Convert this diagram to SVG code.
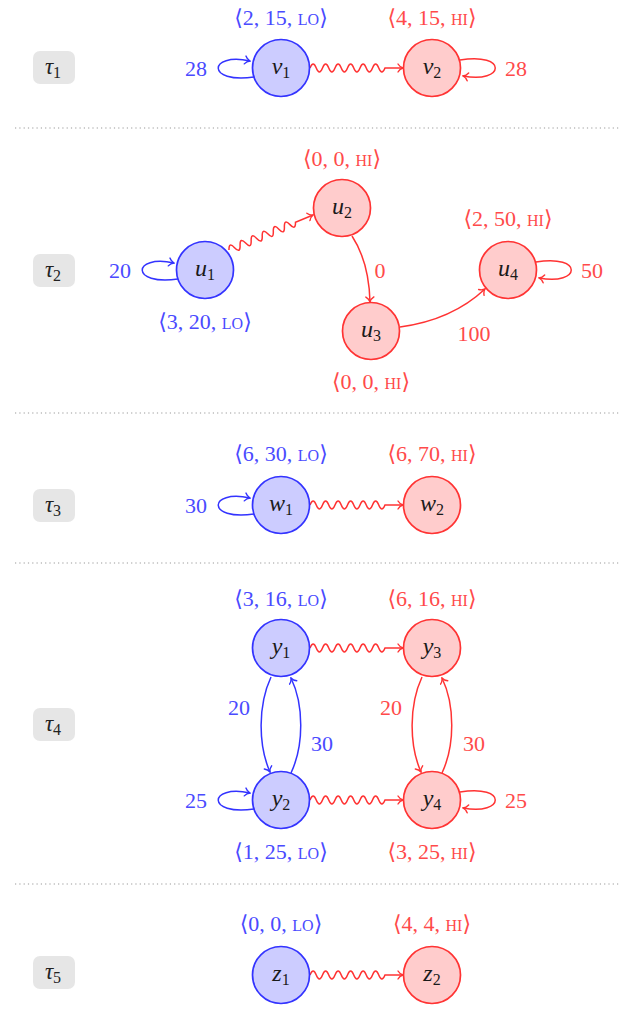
<svg xmlns="http://www.w3.org/2000/svg" width="619" height="1009" viewBox="0 0 619 1009">
<style>
.bg{fill:#ffffff}
.sep{stroke:#999999;stroke-width:1.2;stroke-dasharray:1.2 3.1;fill:none}
.tbox{fill:#e6e6e6;stroke:none}
.tl{font-family:'Liberation Serif','DejaVu Serif',serif;font-size:23px;font-style:italic;fill:#222;text-anchor:middle}
.nb{fill:#ccccff;stroke:#3333ff;stroke-width:1.7}
.nr{fill:#ffcccc;stroke:#ff3333;stroke-width:1.7}
.nt{font-family:'Liberation Serif','DejaVu Serif',serif;font-size:24px;fill:#1a1a1a;text-anchor:middle}
.sub{font-size:16px;font-style:normal}
.it{font-style:italic}
.lb{font-family:'Liberation Serif','DejaVu Serif',serif;font-size:22px;fill:#4a4aff;text-anchor:middle}
.lr{font-family:'Liberation Serif','DejaVu Serif',serif;font-size:22px;fill:#ff4a4a;text-anchor:middle}
.sc{font-size:16px}
.eb{fill:none;stroke:#3333ff;stroke-width:1.5;marker-end:url(#ab)}
.er{fill:none;stroke:#ff3333;stroke-width:1.5;marker-end:url(#ar)}
</style>
<defs>
<marker id="ab" viewBox="-6 -5 7 10" refX="0" refY="0" markerWidth="7" markerHeight="10" markerUnits="userSpaceOnUse" orient="auto">
<path d="M-5,-4 C-3.5,-1.5 -1,-0.3 0,0 C-1,0.3 -3.5,1.5 -5,4" fill="none" stroke="#3333ff" stroke-width="1.4" stroke-linecap="round"/>
</marker>
<marker id="ar" viewBox="-6 -5 7 10" refX="0" refY="0" markerWidth="7" markerHeight="10" markerUnits="userSpaceOnUse" orient="auto">
<path d="M-5,-4 C-3.5,-1.5 -1,-0.3 0,0 C-1,0.3 -3.5,1.5 -5,4" fill="none" stroke="#ff3333" stroke-width="1.4" stroke-linecap="round"/>
</marker>
<path id="wave93" d="M0,0 q3.125,-8 6.25,0 t6.25,0 t6.25,0 t6.25,0 t6.25,0 t6.25,0 t6.25,0 t6.25,0 t6.25,0 t6.25,0 t6.25,0 t6.25,0 l18,0"/>
<path id="wave91" d="M0,0 q3,-8 6,0 t6,0 t6,0 t6,0 t6,0 t6,0 t6,0 t6,0 t6,0 t6,0 t6,0 t6,0 l19,0"/>
</defs>
<rect class="bg" x="0" y="0" width="619" height="1009"/>

<g id="separators">
<line class="sep" x1="15" y1="128" x2="619" y2="128"/>
<line class="sep" x1="15" y1="413" x2="619" y2="413"/>
<line class="sep" x1="15" y1="563" x2="619" y2="563"/>
<line class="sep" x1="15" y1="884" x2="619" y2="884"/>
</g>

<g id="task-labels">
<g id="tau1"><rect class="tbox" x="33" y="51" width="42" height="33" rx="7"/><text class="tl" x="53" y="74">τ<tspan class="sub" dy="4">1</tspan></text></g>
<g id="tau2"><rect class="tbox" x="33" y="254" width="42" height="33" rx="7"/><text class="tl" x="53" y="277">τ<tspan class="sub" dy="4">2</tspan></text></g>
<g id="tau3"><rect class="tbox" x="33" y="489" width="42" height="33" rx="7"/><text class="tl" x="53" y="512">τ<tspan class="sub" dy="4">3</tspan></text></g>
<g id="tau4"><rect class="tbox" x="33" y="708" width="42" height="33" rx="7"/><text class="tl" x="53" y="731">τ<tspan class="sub" dy="4">4</tspan></text></g>
<g id="tau5"><rect class="tbox" x="33" y="956" width="42" height="33" rx="7"/><text class="tl" x="53" y="979">τ<tspan class="sub" dy="4">5</tspan></text></g>
</g>

<g id="connectors">
<path class="eb" d="M254,77 C206,84 208,52 250,61"/>
<use href="#wave93" class="er" transform="translate(310,68)"/>
<path class="er" d="M460,60 C508,52 505,84 463,76"/>
<path class="eb" d="M178,279 C130,286 132,254 174,263"/>
<use href="#wave91" class="er" transform="translate(229,250) rotate(-22.6)"/>
<path class="er" d="M352,236 Q369,262 370,302"/>
<path class="er" d="M400,327 Q452,320 485,289"/>
<path class="er" d="M536,262 C584,254 581,286 539,278"/>
<path class="eb" d="M254,514 C206,521 208,489 250,498"/>
<use href="#wave93" class="er" transform="translate(310,505)"/>
<use href="#wave93" class="er" transform="translate(310,648)"/>
<use href="#wave93" class="er" transform="translate(310,800)"/>
<path class="eb" d="M271,677 C258,705 258,745 270,772"/>
<path class="eb" d="M291,773 C304,745 304,705 291,678"/>
<path class="er" d="M422,677 C409,705 409,745 421,772"/>
<path class="er" d="M442,773 C455,745 455,705 442,678"/>
<path class="eb" d="M254,809 C206,816 208,784 250,793"/>
<path class="er" d="M460,792 C508,784 505,816 463,808"/>
<use href="#wave93" class="er" transform="translate(310,975)"/>
</g>

<g id="edge-labels">
<text class="lb" x="196" y="76">28</text>
<text class="lr" x="516" y="76">28</text>
<text class="lb" x="120" y="278">20</text>
<text class="lr" x="380" y="278">0</text>
<text class="lr" x="474" y="341">100</text>
<text class="lr" x="592" y="278">50</text>
<text class="lb" x="196" y="513">30</text>
<text class="lb" x="239" y="715">20</text>
<text class="lb" x="322" y="751">30</text>
<text class="lr" x="391" y="715">20</text>
<text class="lr" x="474" y="751">30</text>
<text class="lb" x="196" y="808">25</text>
<text class="lr" x="516" y="808">25</text>
</g>

<g id="v1"><circle class="nb" cx="281" cy="68" r="28.5"/><text class="nt" x="281" y="74"><tspan class="it">v</tspan><tspan class="sub" dy="4">1</tspan></text><text class="lb" x="281" y="25">⟨2, 15, <tspan class="sc">LO</tspan>⟩</text></g>
<g id="v2"><circle class="nr" cx="432" cy="68" r="28.5"/><text class="nt" x="432" y="74"><tspan class="it">v</tspan><tspan class="sub" dy="4">2</tspan></text><text class="lr" x="432" y="25">⟨4, 15, <tspan class="sc">HI</tspan>⟩</text></g>

<g id="u1"><circle class="nb" cx="205" cy="270" r="28.5"/><text class="nt" x="205" y="276"><tspan class="it">u</tspan><tspan class="sub" dy="4">1</tspan></text><text class="lb" x="205" y="329">⟨3, 20, <tspan class="sc">LO</tspan>⟩</text></g>
<g id="u2"><circle class="nr" cx="342" cy="208" r="28.5"/><text class="nt" x="342" y="214"><tspan class="it">u</tspan><tspan class="sub" dy="4">2</tspan></text><text class="lr" x="342" y="166">⟨0, 0, <tspan class="sc">HI</tspan>⟩</text></g>
<g id="u3"><circle class="nr" cx="371" cy="331" r="28.5"/><text class="nt" x="371" y="337"><tspan class="it">u</tspan><tspan class="sub" dy="4">3</tspan></text><text class="lr" x="371" y="389">⟨0, 0, <tspan class="sc">HI</tspan>⟩</text></g>
<g id="u4"><circle class="nr" cx="508" cy="270" r="28.5"/><text class="nt" x="508" y="276"><tspan class="it">u</tspan><tspan class="sub" dy="4">4</tspan></text><text class="lr" x="508" y="226">⟨2, 50, <tspan class="sc">HI</tspan>⟩</text></g>

<g id="w1"><circle class="nb" cx="281" cy="505" r="28.5"/><text class="nt" x="281" y="511"><tspan class="it">w</tspan><tspan class="sub" dy="4">1</tspan></text><text class="lb" x="281" y="461">⟨6, 30, <tspan class="sc">LO</tspan>⟩</text></g>
<g id="w2"><circle class="nr" cx="432" cy="505" r="28.5"/><text class="nt" x="432" y="511"><tspan class="it">w</tspan><tspan class="sub" dy="4">2</tspan></text><text class="lr" x="432" y="461">⟨6, 70, <tspan class="sc">HI</tspan>⟩</text></g>

<g id="y1"><circle class="nb" cx="281" cy="648" r="28.5"/><text class="nt" x="281" y="654"><tspan class="it">y</tspan><tspan class="sub" dy="4">1</tspan></text><text class="lb" x="281" y="606">⟨3, 16, <tspan class="sc">LO</tspan>⟩</text></g>
<g id="y3"><circle class="nr" cx="432" cy="648" r="28.5"/><text class="nt" x="432" y="654"><tspan class="it">y</tspan><tspan class="sub" dy="4">3</tspan></text><text class="lr" x="432" y="606">⟨6, 16, <tspan class="sc">HI</tspan>⟩</text></g>
<g id="y2"><circle class="nb" cx="281" cy="800" r="28.5"/><text class="nt" x="281" y="806"><tspan class="it">y</tspan><tspan class="sub" dy="4">2</tspan></text><text class="lb" x="281" y="859">⟨1, 25, <tspan class="sc">LO</tspan>⟩</text></g>
<g id="y4"><circle class="nr" cx="432" cy="800" r="28.5"/><text class="nt" x="432" y="806"><tspan class="it">y</tspan><tspan class="sub" dy="4">4</tspan></text><text class="lr" x="432" y="859">⟨3, 25, <tspan class="sc">HI</tspan>⟩</text></g>

<g id="z1"><circle class="nb" cx="281" cy="975" r="28.5"/><text class="nt" x="281" y="981"><tspan class="it">z</tspan><tspan class="sub" dy="4">1</tspan></text><text class="lb" x="281" y="931">⟨0, 0, <tspan class="sc">LO</tspan>⟩</text></g>
<g id="z2"><circle class="nr" cx="432" cy="975" r="28.5"/><text class="nt" x="432" y="981"><tspan class="it">z</tspan><tspan class="sub" dy="4">2</tspan></text><text class="lr" x="432" y="931">⟨4, 4, <tspan class="sc">HI</tspan>⟩</text></g>
</svg>
